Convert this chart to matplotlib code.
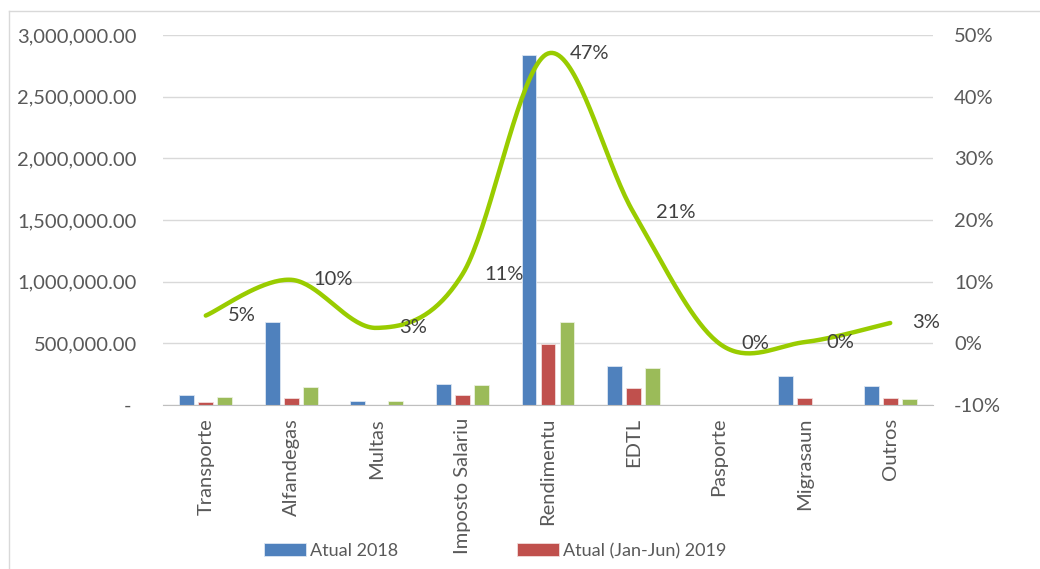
import numpy as np
import matplotlib
matplotlib.use("Agg")
import matplotlib.pyplot as plt
from matplotlib.ticker import FuncFormatter
from matplotlib.lines import Line2D

# data
categories = ["Transporte", "Alfandegas", "Multas", "Imposto Salariu", "Rendimentu",
              "EDTL", "Pasporte", "Migrasaun", "Outros"]
atual_2018 = [81000, 673000, 32000, 168000, 2838000, 314000, 0, 235000, 152000]
atual_2019 = [24000, 57000, 0, 79000, 492000, 138000, 0, 57000, 54000]
third_series = [62000, 146000, 30000, 162000, 673000, 298000, 0, 0, 46000]
share_pct = [4.5, 10.3, 2.5, 11.2, 47.0, 21.2, 0.0, 0.2, 3.3]
share_labels = ["5%", "10%", "3%", "11%", "47%", "21%", "0%", "0%", "3%"]

plt.rcParams['font.family'] = ['Lato', 'DejaVu Sans']
TXT = '#595959'
FS = 14.5
PX = 0.72  # points per pixel at 100 dpi


def smooth_line(x, y, steps=40):
    # excel-style smoothed line: catmull-rom segments drawn as cubic bezier
    p = np.column_stack([x, y]).astype(float)
    ext = np.vstack([p[0], p, p[-1]])
    t = np.linspace(0, 1, steps)[:, None]
    out = []
    for i in range(len(p) - 1):
        p0 = ext[i + 1]
        p3 = ext[i + 2]
        c1 = p0 + (ext[i + 2] - ext[i]) / 6.0
        c2 = p3 - (ext[i + 3] - ext[i + 1]) / 6.0
        seg = ((1 - t) ** 3) * p0 + 3 * ((1 - t) ** 2) * t * c1 + 3 * (1 - t) * t ** 2 * c2 + t ** 3 * p3
        out.append(seg if i == 0 else seg[1:])
    seg = np.vstack(out)
    return seg[:, 0], seg[:, 1]


fig = plt.figure(figsize=(10.4, 5.69), dpi=100)
ax = fig.add_axes([163 / 1040, 1 - 405 / 569, 770 / 1040, 370 / 569])
ax2 = ax.twinx()

x = np.arange(len(categories))
w = 0.175
step = 0.222
b1 = ax.bar(x - step, atual_2018, w, color='#4F81BD', edgecolor='#DCE6F2', linewidth=0.6,
            label='Atual 2018', zorder=2)
b2 = ax.bar(x, atual_2019, w, color='#C0504D', edgecolor='#F2DCDB', linewidth=0.6,
            label='Atual (Jan-Jun) 2019', zorder=2)
ax.bar(x + step, third_series, w, color='#9BBB59', edgecolor='#EBF1DE', linewidth=0.6, zorder=2)

ax.set_xlim(-0.5, len(categories) - 0.5)
ax.set_ylim(0, 3000000)
ax.set_yticks(np.arange(0, 3000001, 500000))
ax.yaxis.set_major_formatter(FuncFormatter(lambda v, p: '- ' if v == 0 else f'{v:,.2f}'))
ax.grid(axis='y', color='#D9D9D9', linewidth=1, zorder=0)
ax.set_axisbelow(True)
ax.set_xticks(x)
ax.set_xticklabels(categories, rotation=90, fontsize=FS, color=TXT)
ax.tick_params(axis='y', labelsize=FS, labelcolor=TXT, length=0, pad=26 * PX)
ax.tick_params(axis='x', length=0, pad=13 * PX)
for s in ['top', 'left', 'right']:
    ax.spines[s].set_visible(False)
ax.spines['bottom'].set_color('#BFBFBF')

# share line on the secondary axis
sx, sy = smooth_line(x, share_pct)
ax2.plot(sx, sy, color='#99CC00', linewidth=3.2, solid_capstyle='round', zorder=3)
for xi, yi, lab in zip(x, share_pct, share_labels):
    ax2.annotate(lab, (xi, yi), xytext=(22, 0), textcoords='offset pixels',
                 ha='left', va='center', fontsize=FS, color='#404040')
ax2.set_ylim(-10, 50)
ax2.set_yticks(np.arange(-10, 51, 10))
ax2.yaxis.set_major_formatter(FuncFormatter(lambda v, p: f'{v:.0f}%'))
ax2.tick_params(axis='y', labelsize=FS, labelcolor=TXT, length=0, pad=21 * PX)
for s in ['top', 'left', 'right', 'bottom']:
    ax2.spines[s].set_visible(False)

fig.legend(handles=[b1, b2], loc='center left', bbox_to_anchor=(248 / 1040, 1 - 551 / 569),
           ncol=2, frameon=False, fontsize=13, labelcolor=TXT, handlelength=2.33,
           handleheight=0.75, handletextpad=0.22, columnspacing=6.55)

# chart area frame (only left and top edges are inside the picture)
fig.add_artist(Line2D([9 / 1040, 9 / 1040], [0, 1 - 11 / 569], color='#D9D9D9', linewidth=1))
fig.add_artist(Line2D([9 / 1040, 1], [1 - 11 / 569, 1 - 11 / 569], color='#D9D9D9', linewidth=1))

fig.savefig('out.png', dpi=100)
